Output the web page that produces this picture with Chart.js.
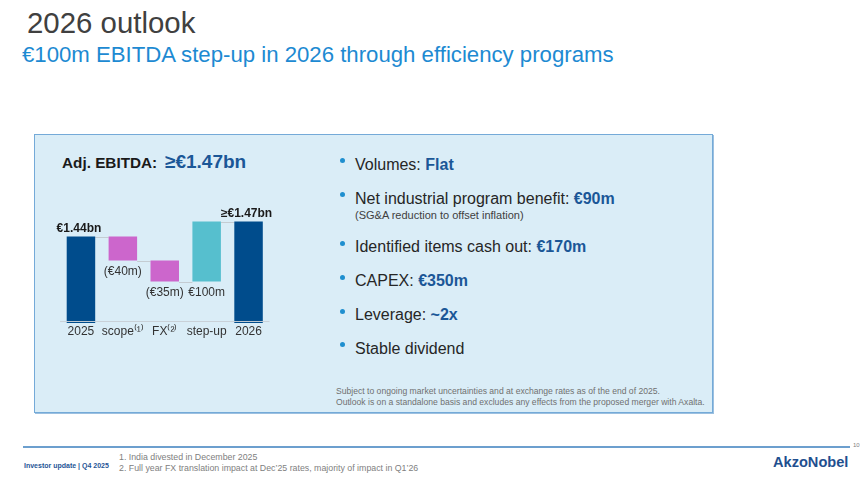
<!DOCTYPE html>
<html>
<head>
<meta charset="utf-8">
<script src="https://cdn.jsdelivr.net/npm/chart.js@4"></script>
<style>
  html, body { margin:0; padding:0; background:#ffffff; }
  body { width:865px; height:482px; position:relative; overflow:hidden; font-family:"Liberation Sans", Arial, sans-serif; }
  .abs { position:absolute; white-space:nowrap; line-height:1; }
  #panel { position:absolute; left:33.5px; top:134px; width:679px; height:278.5px; box-sizing:border-box;
           background:#daedf7; border:1.5px solid #74aad8; box-shadow:1px 1px 0 #9cc0e0; }
  #chart { position:absolute; left:0; top:0; }
  .bul { position:absolute; width:5px; height:5px; border-radius:50%; background:#1f8fcf; }
  .val { color:#1b5797; font-weight:bold; }
</style>
</head>
<body>
<div class="abs" style="left:27px; top:7.5px; font-size:29.4px; color:#404040;">2026 outlook</div>
<div class="abs" style="left:22px; top:44.4px; font-size:22.2px; color:#1d8ad2;">€100m EBITDA step-up in 2026 through efficiency programs</div>

<div id="panel"></div>

<div class="abs" style="left:62px; top:155.3px; font-size:15.3px; font-weight:bold; color:#1a1a1a;">Adj. EBITDA:</div>
<div class="abs" style="left:165px; top:152.2px; font-size:19px; font-weight:bold; color:#1b5797;">≥€1.47bn</div>

<div class="bul" style="left:340px; top:158.2px;"></div>
<div class="abs" style="left:355px; top:156.5px; font-size:16px; color:#262626;">Volumes: <span class="val">Flat</span></div>
<div class="bul" style="left:340px; top:192.2px;"></div>
<div class="abs" style="left:355px; top:190.5px; font-size:16px; color:#262626;">Net industrial program benefit: <span class="val">€90m</span></div>
<div class="abs" style="left:355px; top:209.7px; font-size:11px; color:#404040;">(SG&amp;A reduction to offset inflation)</div>
<div class="bul" style="left:340px; top:240.9px;"></div>
<div class="abs" style="left:355px; top:239.2px; font-size:16px; color:#262626;">Identified items cash out: <span class="val">€170m</span></div>
<div class="bul" style="left:340px; top:274.9px;"></div>
<div class="abs" style="left:355px; top:273.2px; font-size:16px; color:#262626;">CAPEX: <span class="val">€350m</span></div>
<div class="bul" style="left:340px; top:308.9px;"></div>
<div class="abs" style="left:355px; top:307.2px; font-size:16px; color:#262626;">Leverage: <span class="val">~2x</span></div>
<div class="bul" style="left:340px; top:342.2px;"></div>
<div class="abs" style="left:355px; top:340.5px; font-size:16px; color:#262626;">Stable dividend</div>

<div class="abs" style="left:336px; top:386.4px; font-size:8.6px; line-height:10.5px; color:#707070;">Subject to ongoing market uncertainties and at exchange rates as of the end of 2025.<br>Outlook is on a standalone basis and excludes any effects from the proposed merger with Axalta.</div>

<div style="position:absolute; left:23px; top:445.5px; width:827px; height:2px; background:#6c9fce;"></div>
<div class="abs" style="left:853px; top:442px; font-size:6px; color:#808080;">10</div>
<div class="abs" style="left:24px; top:461.6px; font-size:7px; font-weight:bold; color:#1f5596;">Investor update | Q4 2025</div>
<div class="abs" style="left:119px; top:451.5px; font-size:8.8px; line-height:11.5px; color:#808080;">1. India divested in December 2025<br>2. Full year FX translation impact at Dec’25 rates, majority of impact in Q1’26</div>
<div class="abs" style="left:773px; top:455px; font-size:14.6px; font-weight:bold; color:#1f4f8f;">AkzoNobel</div>

<canvas id="chart" width="865" height="482"></canvas>

<script>
// ---- data ----
const categories = ['2025', 'scope⁽¹⁾', 'FX⁽²⁾', 'step-up', '2026'];
const stepValues = [1440, -40, -35, 100, 1465];          // € m
const barKinds   = ['total', 'delta', 'delta', 'delta', 'total'];
const valueLabels = ['€1.44bn', '(€40m)', '(€35m)', '€100m', '≥€1.47bn'];

// ---- styles ----
const AXIS_MIN = 1296, AXIS_MAX = 1500, BASELINE = 1300;
const barColors = ['#004c8c', '#cc66cc', '#cc66cc', '#56bfce', '#004c8c'];

// build floating ranges for the waterfall
let running = 0;
const ranges = stepValues.map((v, i) => {
  if (barKinds[i] === 'total') { running = v; return [AXIS_MIN, v]; }
  const start = running; running += v;
  return [Math.min(start, running), Math.max(start, running)];
});
const levels = []; // level after each bar (for connectors)
running = 0;
stepValues.forEach((v, i) => { running = barKinds[i] === 'total' ? v : running + v; levels.push(running); });

const waterfallPlugin = {
  id: 'waterfall',
  beforeDatasetsDraw(chart) {
    const ctx = chart.ctx, y = chart.scales.y, meta = chart.getDatasetMeta(0);
    ctx.save();
    ctx.strokeStyle = '#c4ccd2'; ctx.lineWidth = 1;
    for (let i = 0; i < meta.data.length - 1; i++) {
      const a = meta.data[i], b = meta.data[i + 1];
      const py = Math.round(y.getPixelForValue(levels[i])) + 0.5;
      ctx.beginPath();
      ctx.moveTo(a.x + a.width / 2, py);
      ctx.lineTo(b.x - b.width / 2, py);
      ctx.stroke();
    }
    ctx.restore();
  },
  afterDatasetsDraw(chart) {
    const ctx = chart.ctx, y = chart.scales.y, area = chart.chartArea, meta = chart.getDatasetMeta(0);
    ctx.save();
    // baseline
    const by = Math.round(y.getPixelForValue(BASELINE)) + 0.5;
    ctx.strokeStyle = 'rgba(200,208,214,0.95)'; ctx.lineWidth = 1;
    ctx.beginPath(); ctx.moveTo(area.left, by); ctx.lineTo(area.right, by); ctx.stroke();
    // value labels
    ctx.textAlign = 'center'; ctx.textBaseline = 'middle';
    meta.data.forEach((bar, i) => {
      const [lo, hi] = ranges[i];
      if (barKinds[i] === 'total') {
        ctx.font = 'bold 12px "Liberation Sans", Arial, sans-serif';
        ctx.fillStyle = '#1a1a1a';
        ctx.fillText(valueLabels[i], bar.x - 2, y.getPixelForValue(hi) - 8);
      } else {
        ctx.font = '12px "Liberation Sans", Arial, sans-serif';
        ctx.fillStyle = '#333333';
        ctx.fillText(valueLabels[i], bar.x, y.getPixelForValue(lo) + 11);
      }
    });
    ctx.restore();
  }
};

new Chart(document.getElementById('chart'), {
  type: 'bar',
  data: {
    labels: categories,
    datasets: [{
      data: ranges,
      backgroundColor: barColors,
      borderWidth: 0,
      barPercentage: 0.68,
      categoryPercentage: 1.0
    }]
  },
  options: {
    responsive: false,
    animation: false,
    devicePixelRatio: 1,
    layout: { padding: { left: 60, right: 595.5, top: 200.5, bottom: 139.1 } },
    plugins: { legend: { display: false }, tooltip: { enabled: false } },
    scales: {
      x: {
        grid: { display: false, drawTicks: false },
        border: { display: false },
        ticks: { padding: 2, color: '#333333', font: { size: 12, family: '"Liberation Sans", Arial, sans-serif' }, maxRotation: 0, autoSkip: false },
        afterFit: (s) => { s.height = 20; }
      },
      y: {
        display: false,
        min: AXIS_MIN,
        max: AXIS_MAX
      }
    }
  },
  plugins: [waterfallPlugin]
});
</script>
</body>
</html>
